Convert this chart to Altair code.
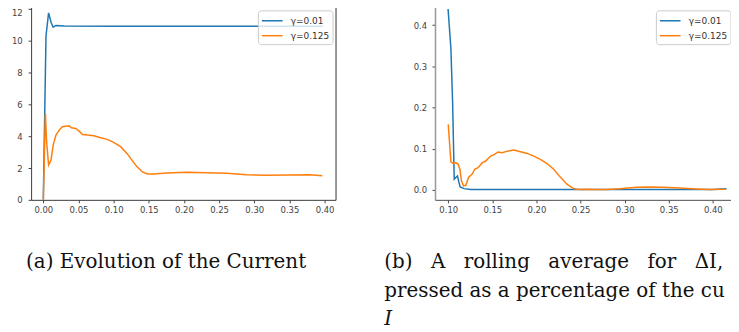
import altair as alt
import pandas as pd

SERIES = ["γ=0.01", "γ=0.125"]
COLORS = ["#1f77b4", "#ff7f0e"]

# Panel (a): evolution of the current
a_blue_x = [0.000, 0.0038, 0.0075, 0.011, 0.014, 0.018, 0.030, 0.100, 0.200, 0.300, 0.398]
a_blue_y = [0.0, 10.3, 11.75, 11.16, 10.85, 10.96, 10.92, 10.91, 10.91, 10.91, 10.91]
a_orange_x = [0.0, 0.003, 0.0047, 0.0075, 0.011, 0.014, 0.018, 0.0226, 0.027, 0.032, 0.0368,
              0.040, 0.046, 0.051, 0.0557, 0.063, 0.072, 0.0816, 0.091, 0.100, 0.110, 0.119,
              0.126, 0.133, 0.1406, 0.148, 0.157, 0.176, 0.204, 0.2325, 0.261, 0.289, 0.317,
              0.350, 0.379, 0.3967]
a_orange_y = [0.0, 5.43, 3.65, 2.19, 2.5, 3.44, 4.07, 4.38, 4.59, 4.63, 4.65,
              4.53, 4.49, 4.32, 4.11, 4.07, 4.03, 3.9, 3.8, 3.61, 3.34, 2.92,
              2.5, 2.09, 1.77, 1.63, 1.63, 1.69, 1.73, 1.71, 1.67, 1.57, 1.54,
              1.56, 1.57, 1.52]
a_xticks = [0.0, 0.05, 0.10, 0.15, 0.20, 0.25, 0.30, 0.35, 0.40]
a_yticks = [0, 2, 4, 6, 8, 10, 12]

# Panel (b): rolling average of delta I
b_blue_x = [0.0998, 0.103, 0.1049, 0.1068, 0.1086, 0.1105, 0.1117, 0.1135, 0.118, 0.1256,
            0.15, 0.20, 0.25, 0.30, 0.35, 0.40, 0.4155]
b_blue_y = [0.439, 0.344, 0.215, 0.026, 0.030, 0.034, 0.022, 0.007, 0.003, 0.001,
            0.0008, 0.0008, 0.0008, 0.0008, 0.0008, 0.001, 0.003]
b_orange_x = [0.100, 0.103, 0.1056, 0.1086, 0.1113, 0.1132, 0.115, 0.1173, 0.120, 0.123,
              0.1274, 0.130, 0.1338, 0.1387, 0.1425, 0.148, 0.1526, 0.1564, 0.1613, 0.167,
              0.1744, 0.182, 0.1895, 0.197, 0.2045, 0.212, 0.2195, 0.227, 0.2346, 0.242,
              0.2477, 0.257, 0.268, 0.2797, 0.2947, 0.3135, 0.3286, 0.3436, 0.3624, 0.3812,
              0.3962, 0.4143]
b_orange_y = [0.159, 0.068, 0.064, 0.066, 0.062, 0.050, 0.022, 0.0097, 0.011, 0.030,
              0.039, 0.050, 0.054, 0.066, 0.070, 0.082, 0.086, 0.092, 0.090, 0.094,
              0.0966, 0.0926, 0.0885, 0.082, 0.074, 0.064, 0.050, 0.031, 0.0137, 0.0032,
              0.001, 0.0016, 0.001, 0.001, 0.003, 0.0064, 0.0072, 0.0064, 0.0048, 0.0024,
              0.0008, 0.0016]
b_xticks = [0.10, 0.15, 0.20, 0.25, 0.30, 0.35, 0.40]
b_yticks = [0.0, 0.1, 0.2, 0.3, 0.4]

CAPTION_A = ["(a) Evolution of the Current"]
SP = "\u2002\u2004\u200a"
CAPTION_B1 = [SP.join(["(b)", "A", "rolling", "average", "for", "ΔI,"])]
CAPTION_B2 = ["pressed as a percentage of the current"]
CAPTION_B3 = ["I"]


def frame(xb, yb, xo, yo):
    return pd.concat([
        pd.DataFrame({"x": xb, "y": yb, "s": SERIES[0]}),
        pd.DataFrame({"x": xo, "y": yo, "s": SERIES[1]}),
    ], ignore_index=True)


df_a = frame(a_blue_x, a_blue_y, a_orange_x, a_orange_y)
df_b = frame(b_blue_x, b_blue_y, b_orange_x, b_orange_y)

W, H = 306, 198

tick_kw = dict(labelFont="DejaVu Sans", labelFontSize=8.5, labelColor="#444444",
               tickColor="#444444", tickSize=3, tickWidth=1, grid=False, title=None)


def legend(lx):
    return alt.Legend(title=None, orient="none", legendX=lx, legendY=7.5,
                      fillColor="rgba(255,255,255,0.8)", strokeColor="#cccccc",
                      cornerRadius=3, padding=3, symbolType="M-1,0H2.2", symbolSize=169,
                      symbolStrokeWidth=1.5, labelFont="DejaVu Sans", labelFontSize=9,
                      labelColor="#333333", labelOffset=15, rowPadding=2)


color_scale = alt.Scale(domain=SERIES, range=COLORS)


def caption(lines, x, y, italic=False, limit=None):
    kw = dict(align="left", baseline="alphabetic", font="DejaVu Serif", fontSize=20,
              color="#111111")
    if italic:
        kw["fontStyle"] = "italic"
    if limit is not None:
        kw["limit"] = limit
        kw["ellipsis"] = "\u200b"
    return alt.Chart(pd.DataFrame({"t": lines})).mark_text(**kw).encode(
        x=alt.value(x), y=alt.value(y), text="t:N")


# ---- left panel
xa = alt.X("x:Q", scale=alt.Scale(domain=[-0.0174, 0.4156], nice=False, zero=False),
           axis=alt.Axis(values=a_xticks, format=".2f", labelPadding=2.5,
                         domainColor="#444444", **tick_kw))
ya_scale = alt.Scale(domain=[0, 12.38], nice=False, zero=False)
ya = alt.Y("y:Q", scale=ya_scale,
           axis=alt.Axis(values=a_yticks, format="d", labelPadding=6,
                         labelBaseline={"condition": {"test": "datum.value == 12",
                                                      "value": "top"},
                                        "value": "middle"},
                         domainColor="#444444", **tick_kw))
lines_a = alt.Chart(df_a).mark_line(strokeWidth=1.5, clip=True).encode(
    x=xa, y=ya, color=alt.Color("s:N", scale=color_scale, legend=legend(228)))
spine_a = alt.Chart(df_a).mark_line(opacity=0).encode(
    x=xa,
    y=alt.Y("y:Q", scale=ya_scale,
            axis=alt.Axis(orient="right", labels=False, ticks=False, grid=False,
                          title=None, domainColor="#444444")))
left = alt.layer(lines_a, spine_a, caption(CAPTION_A, -5, 267)).resolve_axis(
    y="independent").properties(width=W, height=H)

# ---- right panel
xb = alt.X("x:Q", scale=alt.Scale(domain=[0.085, 0.4313], nice=False, zero=False),
           axis=alt.Axis(values=b_xticks, format=".2f", labelPadding=2.5,
                         domainColor="#555555", **tick_kw))
yb = alt.Y("y:Q", scale=alt.Scale(domain=[-0.0242, 0.454], nice=False, zero=False),
           axis=alt.Axis(values=b_yticks, format=".1f", labelPadding=5.5,
                         domainColor="#999999", domainWidth=1.5, **tick_kw))
lines_b = alt.Chart(df_b).mark_line(strokeWidth=1.5, clip=True).encode(
    x=xb, y=yb, color=alt.Color("s:N", scale=color_scale, legend=legend(222)))
right = alt.layer(
    lines_b,
    caption(CAPTION_B1, -51, 267, limit=348),
    caption(CAPTION_B2, -51, 295.5, limit=348),
    caption(CAPTION_B3, -51, 324, italic=True),
).properties(width=W + 1, height=H)

chart = alt.hconcat(left, right, spacing=47).resolve_scale(color="independent").properties(
    padding={"left": 2.2, "top": -7, "right": -10.5, "bottom": 2}
).configure_view(stroke=None).configure(background="white")

chart.save("out.html", embed_options={"renderer": "svg", "actions": False})
